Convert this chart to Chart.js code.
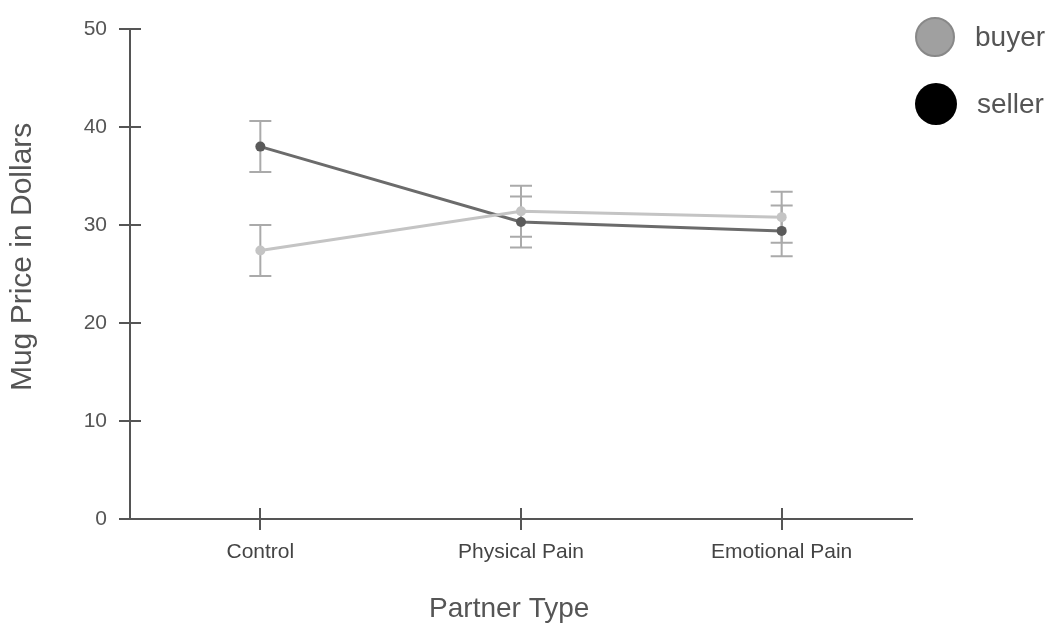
<!DOCTYPE html>
<html>
<head>
<meta charset="utf-8">
<script src="https://cdn.jsdelivr.net/npm/chart.js@4/dist/chart.umd.min.js"></script>
<style>
  html, body { margin: 0; padding: 0; background: #fff; }
  #wrap { position: relative; width: 1051px; height: 625px; }
  .leg { position: absolute; left: 915px; display: flex; align-items: center; font-family: "Liberation Sans", Arial, sans-serif; font-size: 28px; color: #555; }
  .dot { width: 40px; height: 40px; border-radius: 50%; margin-right: 20px; box-sizing: border-box; }
</style>
</head>
<body>
<div id="wrap">
  <canvas id="chart" width="1051" height="625"></canvas>
  <div class="leg" style="top:17px"><span class="dot" style="background:#a0a0a0;border:2px solid #888"></span>buyer</div>
  <div class="leg" style="top:83px"><span class="dot" style="width:42px;height:42px;background:#000"></span>seller</div>
</div>
<script>
const categories = ['Control', 'Physical Pain', 'Emotional Pain'];
const buyerValues = [27.4, 31.4, 30.8];
const buyerErrors = [2.6, 2.6, 2.6];
const sellerValues = [38.0, 30.3, 29.4];
const sellerErrors = [2.6, 2.6, 2.6];
const yTicks = [0, 10, 20, 30, 40, 50];
const xTitle = 'Partner Type';
const yTitle = 'Mug Price in Dollars';

const FONT = '"Liberation Sans", Arial, sans-serif';

// error bars drawn behind the lines
const errorBars = {
  id: 'errorBars',
  beforeDatasetsDraw(chart) {
    const ctx = chart.ctx;
    const x = chart.scales.x, y = chart.scales.y;
    const sets = [[buyerValues, buyerErrors], [sellerValues, sellerErrors]];
    ctx.save();
    ctx.strokeStyle = '#aaaaaa';
    ctx.lineWidth = 2;
    sets.forEach(([vals, errs]) => {
      vals.forEach((v, i) => {
        const px = x.getPixelForValue(i);
        const top = y.getPixelForValue(v + errs[i]);
        const bot = y.getPixelForValue(v - errs[i]);
        ctx.beginPath();
        ctx.moveTo(px, top); ctx.lineTo(px, bot);
        ctx.moveTo(px - 11, top); ctx.lineTo(px + 11, top);
        ctx.moveTo(px - 11, bot); ctx.lineTo(px + 11, bot);
        ctx.stroke();
      });
    });
    ctx.restore();
  }
};

// tick marks that also cross into the plot, plus axis titles
const innerTicks = {
  id: 'innerTicks',
  afterDraw(chart) {
    const ctx = chart.ctx;
    const x = chart.scales.x, y = chart.scales.y;
    const a = chart.chartArea;
    ctx.save();
    ctx.strokeStyle = '#555';
    ctx.lineWidth = 2;
    ctx.beginPath();
    yTicks.forEach(t => {
      const py = Math.round(y.getPixelForValue(t));
      ctx.moveTo(a.left, py); ctx.lineTo(a.left + 11, py);
    });
    ctx.stroke();
    ctx.beginPath();
    categories.forEach((c, i) => {
      const px = Math.round(x.getPixelForValue(i));
      ctx.moveTo(px, a.bottom); ctx.lineTo(px, a.bottom - 11);
    });
    ctx.stroke();

    ctx.fillStyle = '#555';
    ctx.textAlign = 'center';
    ctx.textBaseline = 'middle';
    ctx.font = '28px ' + FONT;
    ctx.fillText(xTitle, a.left + (a.right - a.left) * 0.485, a.bottom + 90);
    ctx.translate(23, a.top + (a.bottom - a.top) * 0.465);
    ctx.rotate(-Math.PI / 2);
    ctx.font = '30px ' + FONT;
    ctx.fillText(yTitle, 0, 0);
    ctx.restore();
  }
};

new Chart(document.getElementById('chart'), {
  type: 'line',
  data: {
    labels: categories,
    datasets: [
      {
        label: 'buyer',
        data: buyerValues,
        borderColor: '#c4c4c4',
        backgroundColor: '#c4c4c4',
        borderWidth: 3,
        pointRadius: 5,
        pointBorderWidth: 0
      },
      {
        label: 'seller',
        data: sellerValues,
        borderColor: '#6b6b6b',
        backgroundColor: '#5a5a5a',
        borderWidth: 3,
        pointRadius: 5,
        pointBorderWidth: 0
      }
    ]
  },
  options: {
    responsive: false,
    animation: false,
    layout: { padding: { top: 29, right: 139, left: 0, bottom: 0 } },
    plugins: { legend: { display: false }, tooltip: { enabled: false } },
    scales: {
      x: {
        offset: true,
        grid: { display: true, drawOnChartArea: false, color: '#555', lineWidth: 2, tickLength: 11, offset: false },
        border: { color: '#555', width: 2 },
        ticks: { color: '#444', font: { family: FONT, size: 21 }, padding: 10, maxRotation: 0 },
        afterFit(scale) { scale.height = 106; }
      },
      y: {
        min: 0,
        max: 50,
        afterBuildTicks(scale) { scale.ticks = yTicks.map(v => ({ value: v })); },
        grid: { display: true, drawOnChartArea: false, color: '#555', lineWidth: 2, tickLength: 11 },
        border: { color: '#555', width: 2 },
        ticks: { color: '#555', font: { family: FONT, size: 21 }, padding: 12 },
        afterFit(scale) { scale.width = 130; }
      }
    }
  },
  plugins: [errorBars, innerTicks]
});
</script>
</body>
</html>
